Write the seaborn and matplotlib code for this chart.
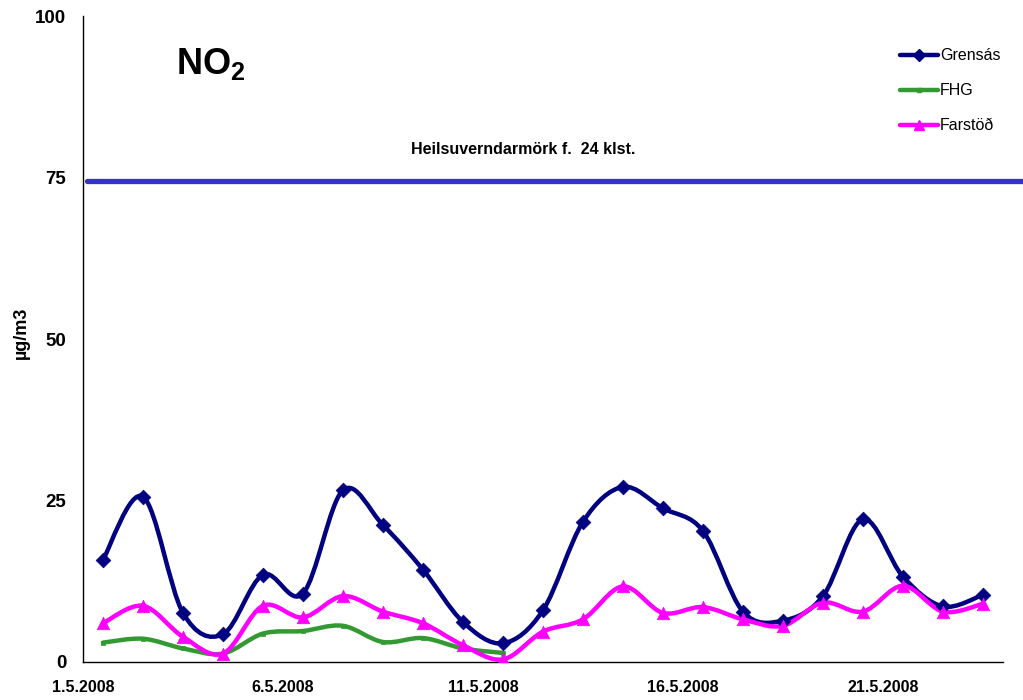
import numpy as np
import pandas as pd
import matplotlib
matplotlib.use('Agg')
import matplotlib.pyplot as plt
from matplotlib.path import Path
from matplotlib.patches import PathPatch
from matplotlib.lines import Line2D
import seaborn as sns

# --- data ---
dates = pd.date_range('2008-05-01', periods=23, freq='D')
grensas = [15.8, 25.6, 7.6, 4.3, 13.5, 10.6, 26.6, 21.2, 14.3, 6.2, 2.9, 8.0,
           21.7, 27.1, 23.8, 20.3, 7.8, 6.4, 10.2, 22.1, 13.2, 8.6, 10.4]
fhg = [3.0, 3.6, 2.1, 1.3, 4.4, 4.8, 5.6, 3.1, 3.7, 2.1, 1.4] + [np.nan] * 12
farstod = [6.0, 8.7, 3.9, 1.3, 8.7, 6.9, 10.2, 7.8, 6.0, 2.6, 0.4, 4.7,
           6.6, 11.7, 7.6, 8.5, 6.6, 5.6, 9.2, 7.8, 11.8, 7.8, 9.0]
limit = 74.5
limit_label = 'Heilsuverndarmörk f.  24 klst.'
series_names = ['Grensás', 'FHG', 'Farstöð']
colors = ['#000080', '#339933', '#FF00FF']
markers = ['D', 's', '^']
msizes = [7.5, 3.5, 9]

df = pd.DataFrame({'pos': np.arange(len(dates)) + 0.5,
                   'Grensás': grensas, 'FHG': fhg, 'Farstöð': farstod})


def smooth_path(x, y):
    """Excel-like smoothed line: cubic bezier through the points."""
    pts = np.column_stack([x, y])
    pts = pts[~np.isnan(pts[:, 1])]
    n = len(pts)
    verts = [pts[0]]
    codes = [Path.MOVETO]
    for i in range(n - 1):
        p0 = pts[i - 1] if i > 0 else pts[i]
        p1 = pts[i]
        p2 = pts[i + 1]
        p3 = pts[i + 2] if i + 2 < n else pts[i + 1]
        c1 = p1 + (p2 - p0) / 6.0
        c2 = p2 - (p3 - p1) / 6.0
        verts += [c1, c2, p2]
        codes += [Path.CURVE4] * 3
    return Path(verts, codes)


sns.set_style('white')
plt.rcParams['font.family'] = ['Liberation Sans', 'DejaVu Sans']
plt.rcParams['text.color'] = 'black'
plt.rcParams['axes.labelcolor'] = 'black'
plt.rcParams['xtick.color'] = 'black'
plt.rcParams['ytick.color'] = 'black'
plt.rcParams['mathtext.fontset'] = 'custom'
plt.rcParams['mathtext.bf'] = 'Liberation Sans:bold'
plt.rcParams['mathtext.rm'] = 'Liberation Sans'

fig = plt.figure(figsize=(10.23, 7.0), dpi=100)
ax = fig.add_axes([0.0811, 0.0543, 0.8993, 0.9227])

for name, c, m, ms in zip(series_names, colors, markers, msizes):
    ax.add_patch(PathPatch(smooth_path(df['pos'].values, df[name].values),
                           facecolor='none', edgecolor=c, lw=3.2, zorder=3,
                           capstyle='round', joinstyle='round'))
    sns.scatterplot(data=df, x='pos', y=name, marker=m, s=ms ** 2, color=c,
                    edgecolor=c, linewidth=0.5, zorder=4, ax=ax, legend=False)

# limit line runs out past the plot area
ax.axhline(limit, xmin=0.004, xmax=1.03, color='#3333CC', lw=3.8,
           clip_on=False, zorder=2)
ax.text(11.0, 79.3, limit_label, ha='center', va='center',
        fontsize=11.5, fontweight='bold')

ax.text(3.2, 92.6, r'$\mathbf{NO_2}$', ha='center', va='center', fontsize=26)

ax.set_xlim(0, len(dates))
ax.set_ylim(0, 100)
ax.set_yticks([0, 25, 50, 75, 100])
ax.set_xticks([0, 5, 10, 15, 20])
ax.set_xticklabels([f'{d.day}.{d.month}.{d.year}' for d in dates[[0, 5, 10, 15, 20]]])
ax.set_xlabel('')
ax.set_ylabel('µg/m3', fontsize=13, fontweight='bold')
ax.yaxis.set_label_coords(-0.058, 0.51)
ax.tick_params(axis='both', direction='out', length=5, width=1)
ax.tick_params(axis='x', pad=8, labelsize=11.5)
ax.tick_params(axis='y', pad=7, labelsize=13.5)
for lab in ax.get_xticklabels() + ax.get_yticklabels():
    lab.set_fontweight('bold')

sns.despine(ax=ax)
for s in ['left', 'bottom']:
    ax.spines[s].set_color('black')
    ax.spines[s].set_linewidth(1.0)

handles = [Line2D([], [], color=c, marker=m, markersize=ms * 0.85, lw=3.2)
           for c, m, ms in zip(colors, markers, msizes)]
ax.legend(handles, series_names, loc='upper left', bbox_to_anchor=(0.888, 0.95),
          frameon=False, fontsize=11.5, handlelength=2.4, handletextpad=0.1,
          labelspacing=1.25, borderaxespad=0, borderpad=0)

fig.savefig('out.png', dpi=100)
